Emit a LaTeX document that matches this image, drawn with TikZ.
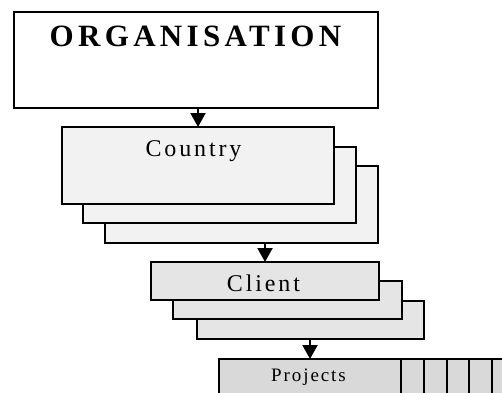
\documentclass[tikz,border=0pt]{standalone}
\usepackage{fontspec}
\setmainfont{Liberation Serif}
\usetikzlibrary{arrows.meta,calc}
\tikzset{
  box/.style={draw=black, line width=2.4pt, rectangle, inner sep=0pt, outer sep=0pt, anchor=north west},
  cfill/.style={fill=black!5},
  clfill/.style={fill=black!10},
  pfill/.style={fill=black!15},
  conn/.style={line width=2pt, -{Triangle[width=15pt,length=14pt]}},
  lbl/.style={inner sep=0pt, anchor=base}
}
\begin{document}
\begin{tikzpicture}[x=1pt,y=1pt]
\useasboundingbox (0,0) rectangle (502,-392);
\clip (0,0) rectangle (502,-392);
% Organisation
\node[box, fill=white, minimum width=364pt, minimum height=96pt] (org) at (14,-12) {};
\node[lbl] (orgt) at (195.5,-46.5) {\fontsize{31}{36}\selectfont\addfontfeature{LetterSpace=14}\bfseries ORGANISATION};
% Country stack
\node[box, cfill, minimum width=273pt, minimum height=77pt] (c3) at (105,-166) {};
\node[box, cfill, minimum width=273pt, minimum height=76pt] (c2) at (83,-147) {};
\node[box, cfill, minimum width=272pt, minimum height=77pt] (c1) at (62,-127) {};
\node[lbl] (ct) at (193.5,-156) {\fontsize{24}{28}\selectfont\addfontfeature{LetterSpace=12}Country};
% Client stack
\node[box, clfill, minimum width=227pt, minimum height=38pt] (k3) at (197,-301) {};
\node[box, clfill, minimum width=229pt, minimum height=38pt] (k2) at (173,-281) {};
\node[box, clfill, minimum width=228pt, minimum height=38pt] (k1) at (151,-262) {};
\node[lbl] (kt) at (263.5,-291) {\fontsize{24}{28}\selectfont\addfontfeature{LetterSpace=12}Client};
% Projects row
\node[box, pfill, minimum width=23pt, minimum height=60pt] (p5) at (492,-359) {};
\node[box, pfill, minimum width=23pt, minimum height=60pt] (p4) at (469,-359) {};
\node[box, pfill, minimum width=22pt, minimum height=60pt] (p3) at (447,-359) {};
\node[box, pfill, minimum width=23pt, minimum height=60pt] (p2) at (424,-359) {};
\node[box, pfill, minimum width=23pt, minimum height=60pt] (p1b) at (401,-359) {};
\node[box, pfill, minimum width=182pt, minimum height=60pt] (p1) at (219,-359) {};
\node[lbl] (pt) at (308.5,-381) {\fontsize{19}{23}\selectfont\addfontfeature{LetterSpace=10}Projects};
% Connectors
\draw[conn] (org.south -| c1.north) -- (c1.north);
\draw[conn] (k1.north |- c3.south) -- (k1.north);
\draw[conn] (p1.north |- k3.south) -- (p1.north);
\end{tikzpicture}
\end{document}
